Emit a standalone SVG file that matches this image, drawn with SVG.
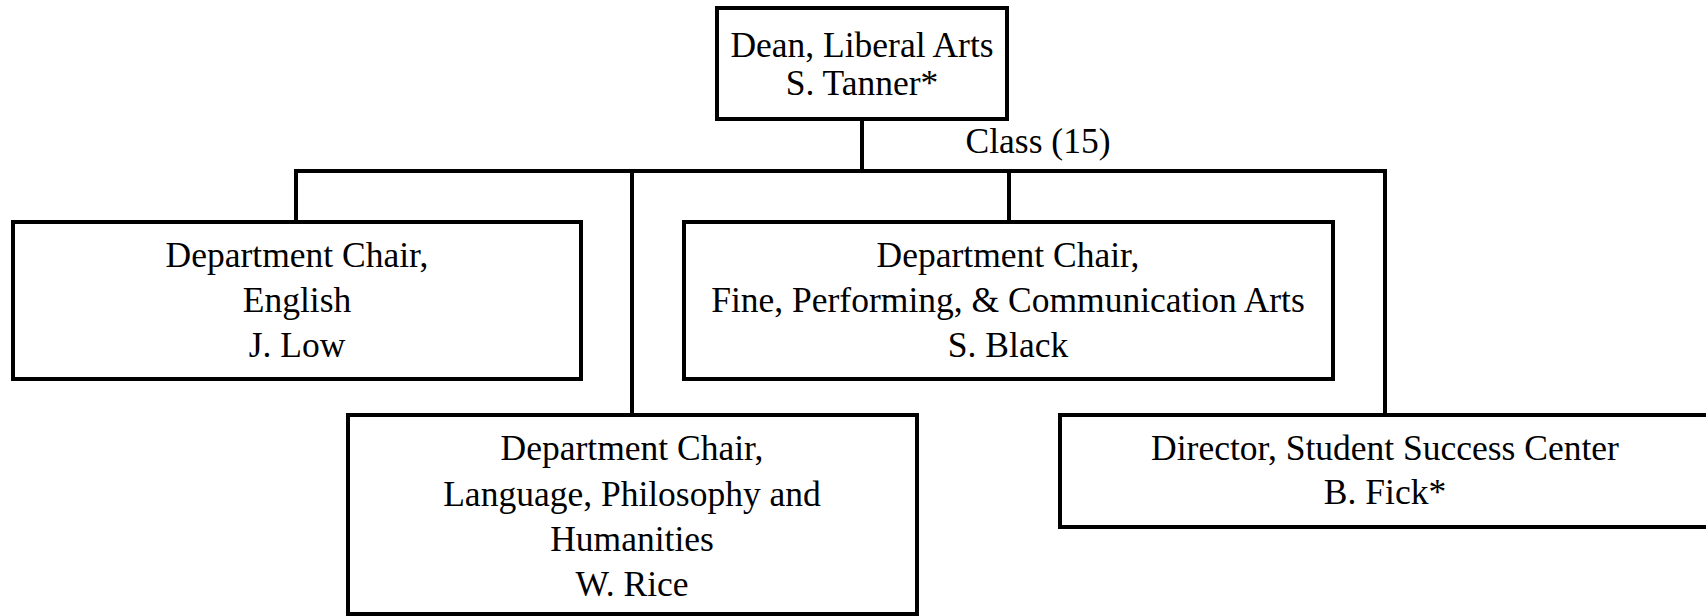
<svg xmlns="http://www.w3.org/2000/svg" width="1706" height="616" viewBox="0 0 1706 616">
<style>
.box{fill:#fff;stroke:#000;stroke-width:4}
.ln{fill:none;stroke:#000;stroke-width:4;stroke-linecap:square}
text{font-family:"Liberation Serif","Times New Roman",serif;font-size:35.5px;fill:#000;text-anchor:middle}
</style>
<rect width="1706" height="616" fill="#fff"/>
<g id="connectors">
<path class="ln" d="M862 119 V171 M296 171 H1385 M296 171 V222 M632 171 V415 M1009 171 V222 M1385 171 V415"/>
<text x="1038" y="153">Class (15)</text>
</g>
<g id="dean">
<rect class="box" x="717" y="8" width="290" height="111"/>
<text x="862" y="57">Dean, Liberal Arts</text>
<text x="862" y="95">S. Tanner*</text>
</g>
<g id="english">
<rect class="box" x="13" y="222" width="568" height="157"/>
<text x="297" y="267">Department Chair,</text>
<text x="297" y="312">English</text>
<text x="297" y="357">J. Low</text>
</g>
<g id="fpc">
<rect class="box" x="684" y="222" width="649" height="157"/>
<text x="1008" y="267">Department Chair,</text>
<text x="1008" y="312">Fine, Performing, &amp; Communication Arts</text>
<text x="1008" y="357">S. Black</text>
</g>
<g id="lph">
<rect class="box" x="348" y="415" width="569" height="199"/>
<text x="632" y="460">Department Chair,</text>
<text x="632" y="506">Language, Philosophy and</text>
<text x="632" y="551">Humanities</text>
<text x="632" y="596">W. Rice</text>
</g>
<g id="director">
<rect class="box" x="1060" y="415" width="652" height="112"/>
<text x="1385" y="460">Director, Student Success Center</text>
<text x="1385" y="504">B. Fick*</text>
</g>
</svg>
